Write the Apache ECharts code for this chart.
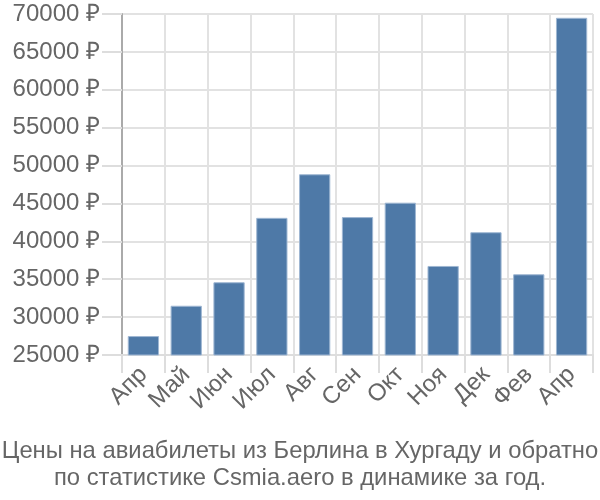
<!DOCTYPE html>
<html><head><meta charset="utf-8">
<script src="https://cdn.jsdelivr.net/npm/echarts@6/dist/echarts.min.js"></script>
<style>html,body{margin:0;padding:0;background:#fff}#c{width:600px;height:500px}</style>
</head><body><div id="c"></div>
<script>
const categories = ['Апр','Май','Июн','Июл','Авг','Сен','Окт','Ноя','Дек','Фев','Апр'];
const prices = [27500, 31500, 34600, 43100, 48850, 43200, 45100, 36750, 41200, 35650, 69500];
const yMin = 25000, yMax = 70000, yStep = 5000;
const titleLines = ['Цены на авиабилеты из Берлина в Хургаду и обратно','по статистике Csmia.aero в динамике за год.'];

const chart = echarts.init(document.getElementById('c'), null, {renderer:'canvas'});
const font = 'Liberation Sans, Arial, sans-serif';
chart.setOption({
  animation:false,
  title:{text:titleLines.join('\n'), left:'center', top:433,
    textStyle:{fontFamily:font, fontSize:23.8, fontWeight:'normal', color:'#666', lineHeight:27}},
  grid:{left:122, right:7, top:14, bottom:145},
  xAxis:{type:'category', data:categories,
    axisLine:{lineStyle:{color:'#ddd', width:2}},
    axisTick:{show:true, interval:0, length:18, lineStyle:{color:'#ddd', width:2}},
    splitLine:{show:true, interval:0, lineStyle:{color:'#e2e2e2', width:2}},
    axisLabel:{interval:0, rotate:45, margin:16, fontFamily:font, fontSize:24, color:'#666'}},
  yAxis:{type:'value', min:yMin, max:yMax, interval:yStep,
    axisLine:{show:true, lineStyle:{color:'#aaa', width:2}},
    axisTick:{show:true, length:20, lineStyle:{color:'#ddd', width:2}},
    splitLine:{show:true, lineStyle:{color:'#e2e2e2', width:2}},
    axisLabel:{margin:22, fontFamily:font, fontSize:24, color:'#666', formatter:v=>v+' ₽'}},
  series:[{type:'bar', data:prices, barCategoryGap:'27%',
    itemStyle:{color:'#4e79a7', borderColor:'#9fb7d3', borderWidth:1}}]
});
</script></body></html>
